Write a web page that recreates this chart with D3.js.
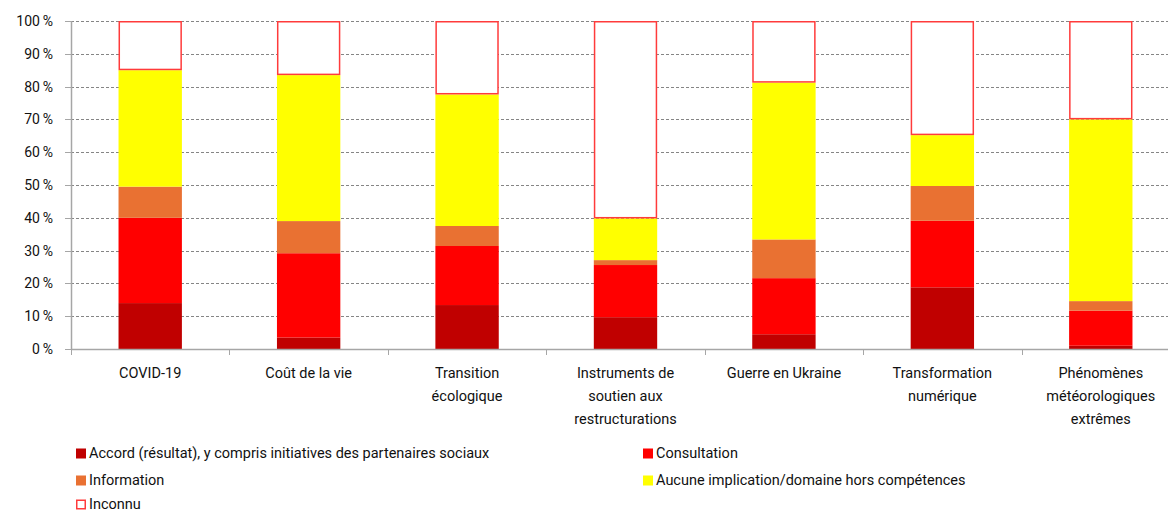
<!DOCTYPE html>
<html>
<head>
<meta charset="utf-8">
<script src="https://cdn.jsdelivr.net/npm/d3@7"></script>
<style>
  body { margin: 0; background: #fff; }
  text { font-family: Roboto, "Liberation Sans", sans-serif; fill: #111; }
</style>
</head>
<body>
<div id="chart-area"></div>
<script>
// categories (x axis, lines split for wrapping)
var categories = [
	["COVID-19"],
	["Coût de la vie"],
	["Transition", "écologique"],
	["Instruments de", "soutien aux", "restructurations"],
	["Guerre en Ukraine"],
	["Transformation", "numérique"],
	["Phénomènes", "météorologiques", "extrêmes"]
];

// series values, in %, one per category
var accord       = [14.0, 3.5, 13.4, 9.7, 4.5, 18.8, 1.0];
var consultation = [26.0, 25.7, 18.0, 15.9, 17.1, 20.3, 10.7];
var information  = [9.5, 9.8, 6.1, 1.5, 11.8, 10.6, 2.9];
var aucune       = [35.5, 44.5, 40.1, 12.7, 47.8, 15.5, 55.4];
var inconnu      = [15.0, 16.5, 22.4, 60.2, 18.8, 34.8, 30.0];

var seriesNames = [
	"Accord (résultat), y compris initiatives des partenaires sociaux",
	"Consultation",
	"Information",
	"Aucune implication/domaine hors compétences",
	"Inconnu"
];
var seriesValues = [accord, consultation, information, aucune, inconnu];
var colors = ["#c00000", "#ff0000", "#e97132", "#ffff00", "#ffffff"];

var yTicks = [0, 10, 20, 30, 40, 50, 60, 70, 80, 90, 100];

/******************************
*	DIMENSIONS AND MARGINS	  *
******************************/
var W = 1168, H = 514;
var margin = { top: 21, left: 71 };
var plotW = 1109, plotH = 328;

var svg = d3.select("#chart-area")
	.append("svg")
		.attr("width", W)
		.attr("height", H);

var g = svg.append("g")
	.attr("transform", "translate(" + margin.left + ", " + margin.top + ")");

var keys = categories.map(function(c) { return c.join(" "); });

var x = d3.scaleBand()
	.domain(keys)
	.range([0, plotW])
	.paddingInner(0.6)
	.paddingOuter(0.3);

var y = d3.scaleLinear()
	.domain([0, 100])
	.range([plotH, 0]);

// table for the stack
var table = keys.map(function(k, i) {
	var row = { cat: k };
	seriesNames.forEach(function(s, j) { row[s] = seriesValues[j][i]; });
	return row;
});
var stacked = d3.stack().keys(seriesNames)(table);

/******************************
*			GRID			  *
******************************/
g.append("g")
	.selectAll("line")
	.data(yTicks.filter(function(d) { return d > 0; }))
	.enter().append("line")
		.attr("x1", 0)
		.attr("x2", plotW)
		.attr("y1", function(d) { return Math.round(y(d)) + 0.5; })
		.attr("y2", function(d) { return Math.round(y(d)) + 0.5; })
		.attr("stroke", "#858585")
		.attr("stroke-width", 1)
		.attr("stroke-dasharray", "3,2");

/******************************
*			BARS			  *
******************************/
stacked.forEach(function(layer, j) {
	var isOpen = j === seriesNames.length - 1;
	g.append("g")
		.selectAll("rect")
		.data(layer)
		.enter().append("rect")
			.attr("x", function(d) { return x(d.data.cat) + (isOpen ? 0.75 : 0); })
			.attr("width", x.bandwidth() - (isOpen ? 1.5 : 0))
			.attr("y", function(d) { return y(d[1]) + (isOpen ? 0.75 : 0); })
			.attr("height", function(d) { return y(d[0]) - y(d[1]) - (isOpen ? 1.5 : 0); })
			.attr("fill", colors[j])
			.attr("stroke", isOpen ? "#ff3b3b" : "none")
			.attr("stroke-width", isOpen ? 1.5 : 0);
});

/******************************
*			AXES			  *
******************************/
var axisColor = "#a6a6a6";

// y axis
g.append("line")
	.attr("x1", 0.5).attr("x2", 0.5)
	.attr("y1", 0).attr("y2", plotH)
	.attr("stroke", axisColor).attr("stroke-width", 1.5);

g.append("g")
	.selectAll("line")
	.data(yTicks)
	.enter().append("line")
		.attr("x1", -6).attr("x2", 0)
		.attr("y1", function(d) { return Math.round(y(d)) + 0.5; })
		.attr("y2", function(d) { return Math.round(y(d)) + 0.5; })
		.attr("stroke", axisColor);

g.append("g")
	.selectAll("text")
	.data(yTicks)
	.enter().append("text")
		.attr("x", -18)
		.attr("y", function(d) { return y(d); })
		.attr("dy", "0.35em")
		.attr("text-anchor", "end")
		.style("font-size", "14px")
		.text(function(d) { return d + "\u2009%"; });

// x axis
g.append("line")
	.attr("x1", 0).attr("x2", plotW)
	.attr("y1", plotH + 0.5).attr("y2", plotH + 0.5)
	.attr("stroke", axisColor).attr("stroke-width", 1.5);

var step = x.step();
var start = x(keys[0]) - step * x.paddingOuter();
g.append("g")
	.selectAll("line")
	.data(d3.range(keys.length + 1))
	.enter().append("line")
		.attr("x1", function(i) { return Math.round(start + i * step) + 0.5; })
		.attr("x2", function(i) { return Math.round(start + i * step) + 0.5; })
		.attr("y1", plotH)
		.attr("y2", plotH + 6)
		.attr("stroke", axisColor);

var xLabels = g.append("g")
	.selectAll("text")
	.data(categories)
	.enter().append("text")
		.attr("text-anchor", "middle")
		.style("font-size", "14.5px")
		.attr("transform", function(d, i) {
			return "translate(" + (x(keys[i]) + x.bandwidth() / 2) + ", " + (plotH + 29) + ")";
		});

xLabels.selectAll("tspan")
	.data(function(d) { return d; })
	.enter().append("tspan")
		.attr("x", 0)
		.attr("y", function(d, i) { return i * 23; })
		.text(function(d) { return d; });

/******************************
*			LEGEND			  *
******************************/
var legendPos = [[76, 453], [643, 453], [76, 480], [643, 480], [76, 504]];

var legend = svg.append("g");
seriesNames.forEach(function(s, i) {
	var row = legend.append("g")
		.attr("transform", "translate(" + legendPos[i][0] + ", " + legendPos[i][1] + ")");

	row.append("rect")
		.attr("x", i === 4 ? 0.75 : 0)
		.attr("y", -4.5 + (i === 4 ? 0.75 : 0))
		.attr("width", i === 4 ? 8.5 : 10)
		.attr("height", i === 4 ? 8.5 : 10)
		.attr("fill", colors[i])
		.attr("stroke", i === 4 ? "#ff3b3b" : "none")
		.attr("stroke-width", 1.5);

	row.append("text")
		.attr("x", 13)
		.attr("y", 0)
		.attr("dy", "0.35em")
		.style("font-size", "14.5px")
		.text(s);
});
</script>
</body>
</html>
